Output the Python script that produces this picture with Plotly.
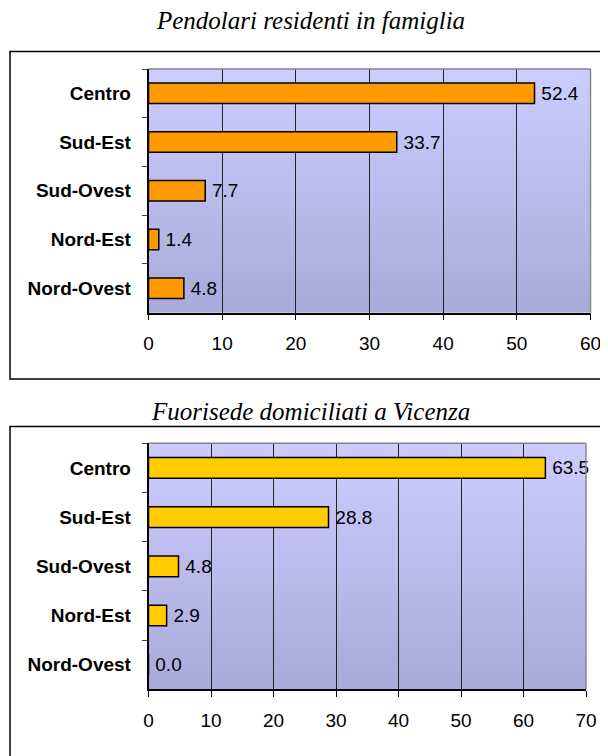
import plotly.graph_objects as go
from plotly.subplots import make_subplots

# dati
zone = ['Centro', 'Sud-Est', 'Sud-Ovest', 'Nord-Est', 'Nord-Ovest']
pendolari = [52.4, 33.7, 7.7, 1.4, 4.8]
fuorisede = [63.5, 28.8, 4.8, 2.9, 0.0]
titolo_1 = 'Pendolari residenti in famiglia'
titolo_2 = 'Fuorisede domiciliati a Vicenza'

# la pagina html ha un margine di 8px attorno al grafico
OFF = 8
W, H = 600, 748

def px_x(v):
    return (v - OFF) / W

def px_y(v):
    return 1 - (v - OFF) / H

fig = make_subplots(rows=2, cols=1)

fig.add_trace(go.Bar(
    y=zone, x=pendolari, orientation='h',
    marker=dict(color='#FF9900', line=dict(color='black', width=1.5)),
    texttemplate='\u2009%{x:.1f}', textposition='outside', constraintext='none',
    textfont=dict(family='Liberation Sans, Arial', size=19, color='black'),
    cliponaxis=False, hoverinfo='skip', showlegend=False,
), row=1, col=1)

fig.add_trace(go.Bar(
    y=zone, x=fuorisede, orientation='h',
    marker=dict(color='#FFCC00', line=dict(color='black', width=1.5)),
    texttemplate='\u2009%{x:.1f}', textposition='outside', constraintext='none',
    textfont=dict(family='Liberation Sans, Arial', size=19, color='black'),
    cliponaxis=False, hoverinfo='skip', showlegend=False,
), row=2, col=1)

# sfumatura dello sfondo (strisce)
shapes = []
n = 60
top_c = (204, 204, 255)
bot_c = (170, 170, 218)
for xr, yr in [('x domain', 'y domain'), ('x2 domain', 'y2 domain')]:
    for i in range(n):
        t = i / (n - 1)
        c = tuple(round(top_c[k] + (bot_c[k] - top_c[k]) * t) for k in range(3))
        shapes.append(dict(
            type='rect', xref=xr, yref=yr, x0=0, x1=1,
            y0=1 - (i + 1) / n, y1=1 - i / n + 0.002,
            fillcolor='rgb(%d,%d,%d)' % c, line=dict(width=0), layer='below'))
    # bordo grigio sopra e a destra
    shapes.append(dict(type='line', xref=xr, yref=yr, x0=0, x1=1, y0=1, y1=1,
                       line=dict(color='#888888', width=1.5), layer='above'))
    shapes.append(dict(type='line', xref=xr, yref=yr, x0=1, x1=1, y0=0, y1=1,
                       line=dict(color='#888888', width=1.5), layer='above'))

# riquadri esterni
shapes.append(dict(type='rect', xref='paper', yref='paper',
                   x0=px_x(10), x1=px_x(606.5), y0=px_y(379), y1=px_y(51.5),
                   line=dict(color='black', width=1.5), layer='above'))
shapes.append(dict(type='rect', xref='paper', yref='paper',
                   x0=px_x(10), x1=px_x(660), y0=px_y(820), y1=px_y(426.5),
                   line=dict(color='black', width=1.5), layer='above'))

annotations = [
    dict(text=titolo_1, xref='paper', yref='paper', x=px_x(310), y=px_y(21),
         xanchor='center', yanchor='middle', showarrow=False,
         font=dict(family='Liberation Serif, Times New Roman', size=25, style='italic', color='black')),
    dict(text=titolo_2, xref='paper', yref='paper', x=px_x(310), y=px_y(411),
         xanchor='center', yanchor='middle', showarrow=False,
         font=dict(family='Liberation Serif, Times New Roman', size=25, style='italic', color='black')),
]

xax = dict(showline=True, linecolor='black', linewidth=1.5,
           showgrid=True, gridcolor='#222222', gridwidth=1,
           ticks='outside', ticklen=6, tickcolor='black', dtick=10,
           tickfont=dict(family='Liberation Sans, Arial', size=19, color='black'),
           ticklabelstandoff=7, zeroline=False, fixedrange=True, automargin=False)
yax = dict(showline=True, linecolor='black', linewidth=1.5, showgrid=False,
           ticks='outside', ticklen=5, tickcolor='#444444', tickson='boundaries',
           tickfont=dict(family='Liberation Sans, Arial', size=19, color='black', weight='bold'),
           ticklabelstandoff=12, autorange='reversed', zeroline=False, fixedrange=True,
           automargin=False)

fig.update_layout(
    width=W, height=H, margin=dict(l=0, r=0, t=0, b=0),
    paper_bgcolor='white', plot_bgcolor='#BBBBEE',
    bargap=0.58, shapes=shapes, annotations=annotations,
    xaxis=dict(xax, range=[0, 60], domain=[px_x(148.5), px_x(590.5)], anchor='y'),
    yaxis=dict(yax, domain=[px_y(312.5), px_y(69)], anchor='x'),
    xaxis2=dict(xax, range=[0, 70], domain=[px_x(148.5), px_x(586)], anchor='y2'),
    yaxis2=dict(yax, domain=[px_y(689.3), px_y(443.3)], anchor='x2'),
)

fig.write_html('out.html')
